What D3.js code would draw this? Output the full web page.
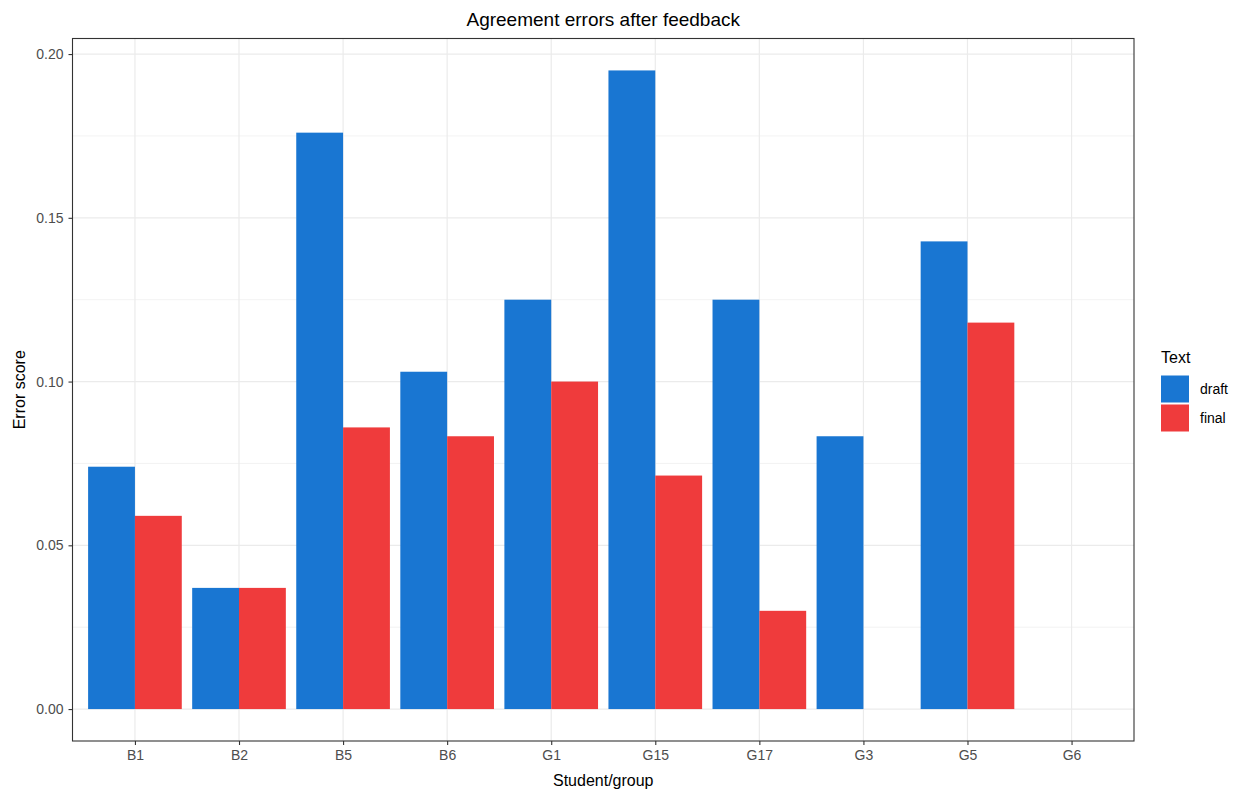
<!DOCTYPE html>
<html>
<head>
<meta charset="utf-8">
<script src="https://cdn.jsdelivr.net/npm/d3@7"></script>
<style>
  body { margin: 0; background: #fff; }
  text { font-family: "Liberation Sans", Arial, sans-serif; }
</style>
</head>
<body>
<svg id="chart"></svg>
<script>
// data
var students = ["B1", "B2", "B5", "B6", "G1", "G15", "G17", "G3", "G5", "G6"];
var draft = [0.074, 0.037, 0.176, 0.103, 0.125, 0.195, 0.125, 0.0833, 0.1428, null];
var final = [0.059, 0.037, 0.086, 0.0833, 0.100, 0.0713, 0.030, null, 0.118, null];
var seriesNames = ["draft", "final"];
var seriesColors = ["#1976D2", "#EF3B3C"];
var yTicks = [0, 0.05, 0.10, 0.15, 0.20];
var yMinor = [0.025, 0.075, 0.125, 0.175];

var width = 1239, height = 790;
var margin = {top: 38.5, right: 105, bottom: 49, left: 72.5};

var svg = d3.select("#chart")
    .attr("width", width)
    .attr("height", height);

var rows = [];
students.forEach(function (s, i) {
    rows.push({student: s, series: "draft", value: draft[i]});
    rows.push({student: s, series: "final", value: final[i]});
});

// ggplot-like discrete axis: 0.6 unit expansion each side
var n = students.length;
var unit = (width - margin.right - margin.left) / (n - 1 + 1.2);
var xScale = d3.scalePoint()
    .domain(students)
    .range([margin.left + 0.6 * unit, width - margin.right - 0.6 * unit]);

var yMax = d3.max(rows, function (d) { return d.value || 0; });
var pad = yMax * 0.05;
var yScale = d3.scaleLinear()
    .domain([-pad, yMax + pad])
    .range([height - margin.bottom, margin.top]);

var color = d3.scaleOrdinal().domain(seriesNames).range(seriesColors);

// grid
var grid = svg.append("g");
grid.selectAll(".minor")
    .data(yMinor)
    .enter().append("line")
    .attr("x1", margin.left).attr("x2", width - margin.right)
    .attr("y1", function (d) { return yScale(d); })
    .attr("y2", function (d) { return yScale(d); })
    .attr("stroke", "#ebebeb").attr("stroke-width", 0.6);
grid.selectAll(".major")
    .data(yTicks)
    .enter().append("line")
    .attr("x1", margin.left).attr("x2", width - margin.right)
    .attr("y1", function (d) { return yScale(d); })
    .attr("y2", function (d) { return yScale(d); })
    .attr("stroke", "#ebebeb").attr("stroke-width", 1.2);
grid.selectAll(".vmajor")
    .data(students)
    .enter().append("line")
    .attr("y1", margin.top).attr("y2", height - margin.bottom)
    .attr("x1", function (d) { return xScale(d); })
    .attr("x2", function (d) { return xScale(d); })
    .attr("stroke", "#ebebeb").attr("stroke-width", 1.2);

// bars (dodged, total width 0.9 unit)
var half = unit * 0.9 / 2;
svg.selectAll(".bar")
    .data(rows.filter(function (d) { return d.value != null; }))
    .enter().append("rect")
    .attr("class", "bar")
    .attr("x", function (d) {
        return d.series == "draft" ? xScale(d.student) - half : xScale(d.student);
    })
    .attr("y", function (d) { return yScale(d.value); })
    .attr("width", half)
    .attr("height", function (d) { return yScale(0) - yScale(d.value); })
    .attr("fill", function (d) { return color(d.series); });

// panel border
svg.append("rect")
    .attr("x", margin.left).attr("y", margin.top)
    .attr("width", width - margin.right - margin.left)
    .attr("height", height - margin.bottom - margin.top)
    .attr("fill", "none").attr("stroke", "#333333").attr("stroke-width", 1.1);

// axes
var xAxis = svg.append("g")
    .attr("transform", "translate(0," + (height - margin.bottom) + ")")
    .call(d3.axisBottom(xScale).tickSize(4).tickPadding(5));
var yAxis = svg.append("g")
    .attr("transform", "translate(" + margin.left + ",0)")
    .call(d3.axisLeft(yScale).tickValues(yTicks).tickFormat(d3.format(".2f")).tickSize(4).tickPadding(5));
[xAxis, yAxis].forEach(function (a) {
    a.select(".domain").remove();
    a.selectAll("line").attr("stroke", "#333333").attr("stroke-width", 1.1);
    a.selectAll("text")
        .attr("fill", "#4d4d4d")
        .style("font-size", "14px")
        .style("font-family", "Liberation Sans, Arial, sans-serif");
});

// titles
svg.append("text")
    .attr("x", (margin.left + width - margin.right) / 2)
    .attr("y", 26)
    .attr("text-anchor", "middle")
    .style("font-size", "19px")
    .attr("fill", "#000")
    .text("Agreement errors after feedback");

svg.append("text")
    .attr("x", (margin.left + width - margin.right) / 2)
    .attr("y", 786)
    .attr("text-anchor", "middle")
    .style("font-size", "16px")
    .attr("fill", "#000")
    .text("Student/group");

svg.append("text")
    .attr("transform", "translate(25," + ((margin.top + height - margin.bottom) / 2) + ")rotate(-90)")
    .attr("text-anchor", "middle")
    .style("font-size", "16px")
    .attr("fill", "#000")
    .text("Error score");

// legend
var legend = svg.append("g").attr("transform", "translate(1161,0)");
legend.append("text")
    .attr("x", 0).attr("y", 363)
    .style("font-size", "16px")
    .attr("fill", "#000")
    .text("Text");
legend.selectAll(".key")
    .data(seriesNames)
    .enter().append("rect")
    .attr("x", 0)
    .attr("y", function (d, i) { return 375.5 + i * 29; })
    .attr("width", 28).attr("height", 27)
    .attr("fill", function (d) { return color(d); });
legend.selectAll(".lab")
    .data(seriesNames)
    .enter().append("text")
    .attr("x", 39)
    .attr("y", function (d, i) { return 389 + i * 29; })
    .attr("dy", "0.35em")
    .style("font-size", "14px")
    .attr("fill", "#000")
    .text(function (d) { return d; });
</script>
</body>
</html>
